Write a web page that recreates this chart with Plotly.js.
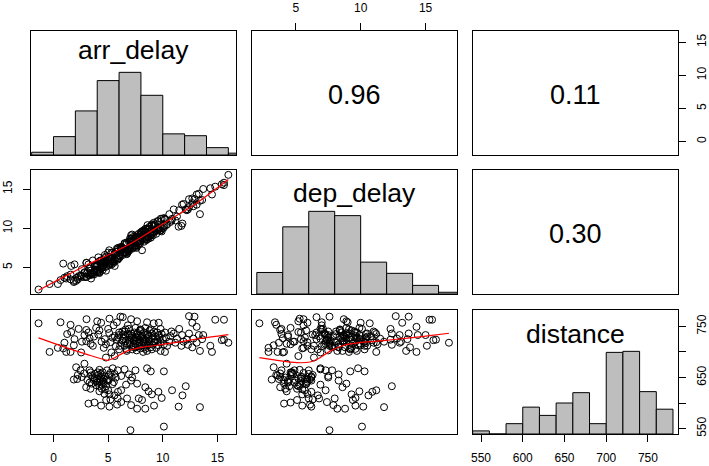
<!DOCTYPE html>
<html><head><meta charset="utf-8">
<script src="https://cdn.plot.ly/plotly-3.0.1.min.js"></script>
<style>html,body{margin:0;padding:0;background:#fff}#chart{width:709px;height:466px}</style>
</head><body><div id="chart"></div>
<script>
// ---- data ----
const varNames = ['arr_delay', 'dep_delay', 'distance'];
const corrLabels = ['0.96', '0.11', '0.30'];

const arrDelay = [
-1.37,-0.36,0.64,1.56,3.02,4.36,5.12,6.12,6.34,7.1,
6.8,0.4,0.89,1.0,1.25,1.62,1.92,1.86,1.16,1.56,
2.53,2.83,3.0,3.2,3.3,3.0,3.4,3.6,3.9,4.2,
4.1,4.4,4.7,4.8,5.0,5.5,5.1,5.4,5.8,6.0,
5.7,6.0,6.5,6.8,7.1,6.6,7.0,7.3,6.5,6.7,
7.2,7.4,5.3,5.6,4.8,7.65,8.56,9.17,9.63,12.4,
12.9,12.7,13.1,14.8,15.6,15.4,16.0,15.6,
7.5,7.95,8.4,8.9,7.65,8.1,8.56,9.0,9.5,9.9,
7.34,7.8,8.25,8.7,9.2,9.6,10.1,10.4,7.5,7.95,
8.56,9.0,9.8,10.2,10.7,11.0,11.15,11.76,12.2,12.4,
12.8,13.3,13.6,13.7,13.1,11.7,12.7,13.4,14.35,14.5,
6.2,6.4,6.6,6.9,7.0,7.2,7.3,7.5,7.6,7.7,
7.8,7.9,8.0,8.1,8.2,8.3,8.4,8.5,8.6,8.7,
8.8,8.9,9.0,9.1,9.3,9.4,9.5,9.7,9.8,10.0,
6.3,6.9,7.4,7.9,8.3,8.8,6.1,6.7,7.6,8.2,
5.9,6.4,7.1,7.8,8.6,10.3,10.6,11.3,11.9,12.3,
2.07,2.47,2.23,1.86,2.17,2.59,2.83,3.29,3.44,3.75,
3.5,3.9,4.05,4.36,4.51,4.2,4.6,4.42,4.9,5.21,
5.42,5.33,5.03,5.52,2.99,3.38,4.2,4.66,5.12,5.58,
5.88,5.21,3.2,3.75,4.36,4.82,5.12,5.82,6.19,6.73,
7.1,7.04,6.19,6.64,7.1,5.58,5.88,7.5,8.56,8.9,
10.1,7.65,8.4,8.7,9.0,9.6,7.8,8.1,7.65,8.4,
9.2,9.9,10.85,12.1,11.8,11.45,13.4,10.1,
3.6,3.9,4.1,4.3,4.5,4.7,4.4,4.0,4.6,3.8,
4.9,4.2,2.8,3.1,5.7,6.2,6.5,6.9,7.2,5.0,
6.3,6.8,7.2,7.7,8.0,8.4,8.9,9.3,9.6,10.2,
7.0,7.5,8.2,8.7,9.2,6.6,6.0,5.6,5.2,4.6,
3.7,2.3,2.6,4.0,5.8,9.8,10.8,11.5,3.4,3.7,
4.0,4.3,4.6,4.8,5.1,5.4,4.2,3.3,4.7,5.9];

const depDelay = [
2.2,2.9,3.4,3.5,5.6,5.9,5.3,7.6,6.6,8.7,
7.0,2.9,5.5,3.7,3.9,5.2,5.4,3.3,3.6,4.1,
4.0,4.4,3.8,5.4,4.0,5.6,4.3,5.9,4.6,5.8,
6.3,4.9,6.6,4.6,6.9,5.6,7.2,5.7,7.4,6.5,
7.0,6.2,8.1,7.2,8.6,7.3,8.3,7.6,8.0,6.7,
9.2,7.7,6.9,5.2,6.4,8.9,9.0,10.7,10.0,12.7,
13.7,13.2,14.3,15.3,15.5,15.6,16.8,15.8,
8.9,8.4,9.9,9.1,8.1,9.6,8.9,10.5,9.7,11.2,
8.6,8.1,9.6,8.9,10.4,9.8,11.3,10.5,7.8,9.2,
8.6,10.3,9.7,11.2,10.8,12.4,11.0,13.0,12.3,13.7,
12.8,14.4,13.6,15.0,13.0,10.3,13.8,13.5,15.1,14.3,
7.6,6.9,7.9,7.4,8.7,7.4,8.9,7.6,9.1,7.8,
9.3,8.0,9.5,7.2,9.7,8.3,9.9,8.5,10.0,8.7,
10.2,8.8,10.4,9.1,10.5,9.3,10.9,9.7,11.2,10.0,
7.5,7.1,8.5,8.4,9.6,9.3,6.4,8.2,7.5,9.1,
7.5,7.3,9.1,8.7,10.4,10.4,11.8,11.5,13.1,12.4,
3.3,3.9,3.5,3.15,3.7,3.8,4.3,4.9,3.6,5.2,
4.1,5.1,4.7,5.5,5.0,4.4,5.8,5.1,6.0,5.6,
6.9,5.4,6.2,5.8,3.8,4.2,4.3,5.9,5.5,6.7,
6.0,6.3,4.1,4.6,5.5,5.1,6.2,6.1,7.4,6.8,
7.9,7.6,7.3,6.9,8.3,6.0,7.3,7.8,9.8,9.2,
10.3,8.9,8.6,9.9,9.3,10.9,8.0,9.4,8.2,8.8,
9.6,9.6,11.2,12.4,10.6,10.2,11.8,10.1,
4.2,5.4,4.6,5.9,4.7,6.2,5.3,4.4,5.8,4.7,
6.1,4.5,3.8,4.4,6.2,7.5,6.9,8.3,7.5,5.7,
7.4,7.3,8.3,8.9,8.4,9.6,9.4,10.3,9.9,11.1,
7.5,8.8,8.7,9.9,9.5,7.0,6.6,6.8,5.9,5.6,
4.4,3.9,4.8,5.2,7.0,10.1,11.0,12.3,4.6,4.1,
5.4,4.8,5.9,5.2,6.3,5.8,5.3,4.9,5.5,6.2];

const distance = [
756,700,758,753,764,757,765,769,768,764,
752,708,707,718,735,739,725,713,700,700,
699,733,743,738,727,721,716,712,747,742,
734,720,725,715,745,752,737,728,724,733,
711,705,740,735,728,721,715,712,712,705,
705,722,699,692,689,760,758,756,757,770,
769,757,749,763,763,723,718,724,
747,744,747,744,735,731,733,736,738,735,
722,718,720,722,718,713,715,712,709,707,
702,705,702,700,731,736,718,733,724,736,
726,733,725,733,718,712,709,702,712,700,
718,726,731,724,719,731,726,716,728,711,
724,720,729,714,725,709,717,727,713,731,
720,709,726,714,730,708,723,728,719,725,
740,745,738,741,738,742,712,702,703,700,
728,734,736,733,735,728,720,726,720,714,
670,664,655,646,647,651,677,664,654,648,
638,635,660,651,644,642,638,628,664,659,
668,651,644,641,631,628,623,618,617,615,
609,607,599,601,595,606,593,597,602,609,
596,547,625,636,644,657,664,664,668,662,
662,638,631,623,617,622,609,606,589,589,
595,610,625,633,615,593,592,554,
650,643,655,646,660,652,636,640,648,657,
646,633,658,645,650,653,666,656,650,625,
722,716,710,737,743,706,716,720,733,738,
733,729,722,725,740,744,738,731,719,708,
730,745,720,760,758,745,740,745,660,645,
648,657,642,633,655,637,665,640,627,622];

// histogram breaks and counts
const arrBreaks = [-2,0,2,4,6,8,10,12,14,16,18];
const arrCounts = [3,20,48,81,90,65,23,21,8,2];
const depBreaks = [2,4,6,8,10,12,14,16,18];
const depCounts = [25,78,96,91,37,24,10,2];
const distBreaks = [540,560,580,600,620,640,660,680,700,720,740,760,780];
const distCounts = [3,0,10,26,18,30,40,10,79,80,41,24];

// smoothed (lowess) curves
const smoothArrDepX = [-1.37,1.2,3.0,5.0,7.0,9.0,11.0,13.0,16.0];
const smoothArrDepY = [2.1,4.0,5.3,6.6,8.0,9.7,11.4,13.1,16.2];
const smoothArrDistX = [-1.37,1.22,3.05,4.97,5.49,6.71,8.23,10.0,11.58,13.4,16.0];
const smoothArrDistY = [727.4,708,695.2,683.6,687.4,701.6,709.4,714.6,719.7,726.2,734];
const smoothDepDistX = [2.2,3.54,5.08,6.1,6.87,7.64,8.66,10.2,11.74,13.8,15.33,16.8];
const smoothDepDistY = [688.7,683.6,679,680.3,688.7,701.6,712.6,719,722.3,727.4,732,736.5];

// tick labels
const arrTicks = [0,5,10,15];
const depTicks = [5,10,15];
const distTicks = [550,600,650,700,750];
const distTickText = ['550','600','650','700','750'];
const distTickTextRight = ['550','','650','','750'];

// ---- layout helpers ----
const W = 709, H = 466;
const colPx = [[31,236],[252,457],[473,678]];
const rowPx = [[31,155],[170,294],[310,434]];
const xDom = c => [colPx[c][0]/W, colPx[c][1]/W];
const yDom = r => [1 - rowPx[r][1]/H, 1 - rowPx[r][0]/H];
const arrRange = [-2.06, 16.7];
const depRange = [1.63, 17.42];
const distRangeX = [540.4, 786];
const distRangeY = [539.5, 782];
const histRange = [0, 1.5];
const FONT = 'Liberation Sans, Arial, Helvetica, sans-serif';
const tickFont = {family: FONT, size: 12, color: '#000'};

function ax(extra) {
  return Object.assign({showline: true, mirror: true, linecolor: '#000', linewidth: 1,
    showgrid: false, zeroline: false, ticks: '', showticklabels: false, fixedrange: true,
    tickfont: tickFont, ticklen: 7, tickwidth: 1, tickcolor: '#000', tickmode: 'array'}, extra);
}
function withTicks(vals, extra) {
  return Object.assign({ticks: 'outside', showticklabels: true, tickvals: vals,
    ticktext: vals.map(String), ticklabelstandoff: 6}, extra);
}

const layout = {
  width: W, height: H, autosize: false, showlegend: false,
  margin: {l: 0, r: 0, t: 0, b: 0},
  paper_bgcolor: '#fff', plot_bgcolor: '#fff',
  font: {family: FONT, color: '#000'},
  xaxis:  ax({domain: xDom(0), anchor: 'y',  range: arrRange}),
  yaxis:  ax({domain: yDom(0), anchor: 'x',  range: histRange}),
  xaxis2: ax(Object.assign({domain: xDom(1), anchor: 'y2', range: depRange, side: 'top'}, withTicks(depTicks))),
  yaxis2: ax({domain: yDom(0), anchor: 'x2', range: arrRange}),
  xaxis3: ax({domain: xDom(2), anchor: 'y3', range: distRangeX}),
  yaxis3: ax(Object.assign({domain: yDom(0), anchor: 'x3', range: arrRange, side: 'right'}, withTicks(arrTicks, {tickangle: -90}))),
  xaxis4: ax({domain: xDom(0), anchor: 'y4', range: arrRange}),
  yaxis4: ax(Object.assign({domain: yDom(1), anchor: 'x4', range: depRange, side: 'left'}, withTicks(depTicks, {tickangle: -90}))),
  xaxis5: ax({domain: xDom(1), anchor: 'y5', range: depRange}),
  yaxis5: ax({domain: yDom(1), anchor: 'x5', range: histRange}),
  xaxis6: ax({domain: xDom(2), anchor: 'y6', range: distRangeX}),
  yaxis6: ax({domain: yDom(1), anchor: 'x6', range: depRange}),
  xaxis7: ax(Object.assign({domain: xDom(0), anchor: 'y7', range: arrRange}, withTicks(arrTicks))),
  yaxis7: ax({domain: yDom(2), anchor: 'x7', range: distRangeY}),
  xaxis8: ax({domain: xDom(1), anchor: 'y8', range: depRange}),
  yaxis8: ax({domain: yDom(2), anchor: 'x8', range: distRangeY}),
  xaxis9: ax(Object.assign({domain: xDom(2), anchor: 'y9', range: distRangeX}, withTicks(distTicks, {ticktext: distTickText}))),
  yaxis9: ax({domain: yDom(2), anchor: 'x9', range: histRange}),
  yaxis10: ax(Object.assign({overlaying: 'y9', anchor: 'x9', side: 'right', range: distRangeY,
    showline: false, mirror: false}, withTicks(distTicks, {ticktext: distTickTextRight, tickangle: -90}))),
  annotations: []
};

// diagonal labels
const labelPos = [0.85, 0.815, 0.81];
const diagAxes = [['x', 'y'], ['x5', 'y5'], ['x9', 'y9']];
varNames.forEach((name, i) => {
  layout.annotations.push({text: name, xref: diagAxes[i][0] + ' domain', yref: diagAxes[i][1] + ' domain',
    x: 0.5, y: labelPos[i], xanchor: 'center', yanchor: 'middle', showarrow: false,
    font: {family: FONT, size: 26.5, color: '#000'}});
});
// correlations in upper panels
const corrAxes = [['x2', 'y2'], ['x3', 'y3'], ['x6', 'y6']];
corrLabels.forEach((t, i) => {
  layout.annotations.push({text: t, xref: corrAxes[i][0] + ' domain', yref: corrAxes[i][1] + ' domain',
    x: 0.5, y: 0.482, xanchor: 'center', yanchor: 'middle', showarrow: false,
    font: {family: FONT, size: 27, color: '#000'}});
});

// ---- traces ----
function histTrace(breaks, counts, xa, ya) {
  const mx = Math.max(...counts);
  const mids = [], widths = [], ys = [];
  for (let i = 0; i < counts.length; i++) {
    mids.push((breaks[i] + breaks[i + 1]) / 2);
    widths.push(breaks[i + 1] - breaks[i]);
    ys.push(counts[i] / mx);
  }
  return {type: 'bar', x: mids, y: ys, width: widths, xaxis: xa, yaxis: ya,
    marker: {color: '#BEBEBE', line: {color: '#000', width: 1}}, hoverinfo: 'skip'};
}
function pts(x, y, xa, ya) {
  return {type: 'scatter', mode: 'markers', x: x, y: y, xaxis: xa, yaxis: ya,
    marker: {symbol: 'circle-open', size: 7, color: '#000', line: {width: 1, color: '#000'}}, hoverinfo: 'skip', cliponaxis: true};
}
function smooth(x, y, xa, ya) {
  return {type: 'scatter', mode: 'lines', x: x, y: y, xaxis: xa, yaxis: ya,
    line: {color: '#FF0000', width: 1.2, shape: 'spline', smoothing: 0.6}, hoverinfo: 'skip'};
}
function empty(xa, ya) {
  return {type: 'scatter', mode: 'markers', x: [], y: [], xaxis: xa, yaxis: ya, hoverinfo: 'skip'};
}

const data = [
  histTrace(arrBreaks, arrCounts, 'x', 'y'),
  empty('x2', 'y2'),
  empty('x3', 'y3'),
  pts(arrDelay, depDelay, 'x4', 'y4'),
  smooth(smoothArrDepX, smoothArrDepY, 'x4', 'y4'),
  histTrace(depBreaks, depCounts, 'x5', 'y5'),
  empty('x6', 'y6'),
  pts(arrDelay, distance, 'x7', 'y7'),
  smooth(smoothArrDistX, smoothArrDistY, 'x7', 'y7'),
  pts(depDelay, distance, 'x8', 'y8'),
  smooth(smoothDepDistX, smoothDepDistY, 'x8', 'y8'),
  histTrace(distBreaks, distCounts, 'x9', 'y9'),
  empty('x9', 'y10')
];

Plotly.newPlot('chart', data, layout, {staticPlot: true, displayModeBar: false});
</script>
</body></html>
